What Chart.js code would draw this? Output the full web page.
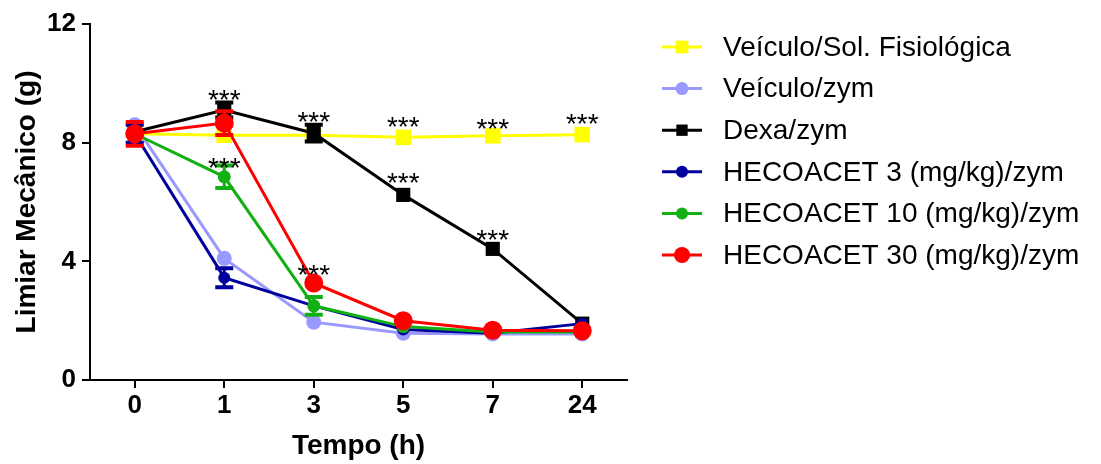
<!DOCTYPE html>
<html>
<head>
<meta charset="utf-8">
<script src="https://cdn.jsdelivr.net/npm/chart.js@4.4.0/dist/chart.umd.min.js"></script>
<style>
  html, body { margin: 0; padding: 0; background: #fff; }
  #wrap { width: 1101px; height: 464px; }
</style>
</head>
<body>
<div id="wrap"><canvas id="chart"></canvas></div>
<script>
// Data
const timeLabels = ['0', '1', '3', '5', '7', '24'];
const yTicks = [0, 4, 8, 12];

const seriesNames = [
    'Veículo/Sol. Fisiológica',
    'Veículo/zym',
    'Dexa/zym',
    'HECOACET 3 (mg/kg)/zym',
    'HECOACET 10 (mg/kg)/zym',
    'HECOACET 30 (mg/kg)/zym'
];

const salineMean = [8.3, 8.25, 8.25, 8.18, 8.23, 8.27];
const salineErr = [0.2, 0.25, 0.1, 0.1, 0.1, 0.1];

const vehicleMean = [8.6, 4.1, 1.95, 1.58, 1.55, 1.55];
const vehicleErr = [0.1, 0.15, 0.1, 0.1, 0.08, 0.08];

const dexaMean = [8.37, 9.1, 8.32, 6.24, 4.42, 1.9];
const dexaErr = [0.2, 0.25, 0.28, 0.1, 0.1, 0.1];

const heco3Mean = [8.3, 3.45, 2.5, 1.7, 1.58, 1.9];
const heco3Err = [0.3, 0.32, 0.12, 0.1, 0.08, 0.1];

const heco10Mean = [8.3, 6.85, 2.5, 1.8, 1.62, 1.62];
const heco10Err = [0.2, 0.38, 0.3, 0.1, 0.08, 0.08];

const heco30Mean = [8.3, 8.66, 3.27, 2.0, 1.68, 1.66];
const heco30Err = [0.4, 0.4, 0.12, 0.1, 0.08, 0.08];

// significance marks (category, value at the centre of the "***")
const starX = ['1', '1', '3', '3', '5', '5', '7', '7', '24'];
const starY = [9.67, 7.4, 8.93, 3.77, 8.76, 6.9, 8.7, 4.95, 8.87];

const colors = ['#FFFF00', '#9999FF', '#000000', '#00009C', '#12B012', '#FF0000'];

function makeSet(i, data, err, style, radius, order) {
    return {
        label: seriesNames[i],
        data: data,
        errors: err,
        borderColor: colors[i],
        backgroundColor: colors[i],
        borderWidth: 3,
        pointStyle: style,
        pointRadius: radius,
        pointHoverRadius: radius,
        pointBorderWidth: 0,
        tension: 0,
        order: order
    };
}

// error bars drawn just before each dataset, so the markers sit on top;
// bars shorter than the symbol are hidden, like in the original plot
const errorBars = {
    id: 'errorBars',
    beforeDatasetDraw(chart, args) {
        const ds = chart.data.datasets[args.index];
        if (!ds.errors) return;
        const ctx = chart.ctx;
        const y = chart.scales.y;
        const half = ds.pointStyle === 'rect' ? ds.pointRadius * Math.SQRT1_2 : ds.pointRadius;
        ctx.save();
        ctx.strokeStyle = ds.borderColor;
        args.meta.data.forEach((pt, i) => {
            const e = ds.errors[i];
            const top = y.getPixelForValue(ds.data[i] + e);
            const bot = y.getPixelForValue(ds.data[i] - e);
            if ((bot - top) / 2 <= half) return;
            ctx.lineWidth = 3;
            ctx.beginPath();
            ctx.moveTo(pt.x, top);
            ctx.lineTo(pt.x, bot);
            ctx.stroke();
            ctx.lineWidth = 4;
            ctx.beginPath();
            ctx.moveTo(pt.x - 9, top);
            ctx.lineTo(pt.x + 9, top);
            ctx.moveTo(pt.x - 9, bot);
            ctx.lineTo(pt.x + 9, bot);
            ctx.stroke();
        });
        ctx.restore();
    }
};

const stars = {
    id: 'stars',
    afterDatasetsDraw(chart) {
        const ctx = chart.ctx;
        const fs = 28;
        ctx.save();
        ctx.fillStyle = '#000';
        ctx.font = fs + 'px Arial, "Liberation Sans"';
        ctx.textAlign = 'center';
        ctx.textBaseline = 'alphabetic';
        starX.forEach((lab, i) => {
            const px = chart.scales.x.getPixelForValue(timeLabels.indexOf(lab));
            const py = chart.scales.y.getPixelForValue(starY[i]);
            ctx.fillText('***', px, py + fs * 0.58);
        });
        ctx.restore();
    }
};

const sideLegend = {
    id: 'sideLegend',
    afterDraw(chart) {
        const ctx = chart.ctx;
        const legendSizes = [9, 6.5, 8, 6, 6, 8];
        ctx.save();
        seriesNames.forEach((name, i) => {
            const ds = chart.data.datasets.find(d => d.label === name);
            const rowY = 47 + i * 41.6;
            ctx.strokeStyle = colors[i];
            ctx.fillStyle = colors[i];
            ctx.lineWidth = 3;
            ctx.beginPath();
            ctx.moveTo(662, rowY);
            ctx.lineTo(702, rowY);
            ctx.stroke();
            Chart.helpers.drawPoint(ctx, { pointStyle: ds.pointStyle, rotation: 0, radius: legendSizes[i], borderWidth: 0 }, 682, rowY);
            ctx.fillStyle = '#000';
            ctx.font = '28px Arial, "Liberation Sans"';
            ctx.textAlign = 'left';
            ctx.textBaseline = 'middle';
            ctx.fillText(name, 723, rowY + 1);
        });
        ctx.restore();
    }
};

new Chart(document.getElementById('chart'), {
    type: 'line',
    data: {
        labels: timeLabels,
        datasets: [
            makeSet(0, salineMean, salineErr, 'rect', 11, 5),
            makeSet(1, vehicleMean, vehicleErr, 'circle', 7.5, 4),
            makeSet(2, dexaMean, dexaErr, 'rect', 10, 3),
            makeSet(3, heco3Mean, heco3Err, 'circle', 6, 2),
            makeSet(4, heco10Mean, heco10Err, 'circle', 6.5, 1),
            makeSet(5, heco30Mean, heco30Err, 'circle', 9.5, 0)
        ]
    },
    options: {
        responsive: true,
        maintainAspectRatio: false,
        animation: false,
        layout: { padding: { left: 0, top: 24, right: 474, bottom: 0 } },
        plugins: {
            legend: { display: false },
            tooltip: { enabled: false }
        },
        scales: {
            x: {
                type: 'category',
                offset: true,
                grid: { display: true, offset: false, drawOnChartArea: false, drawTicks: true, tickLength: 8, color: '#000', lineWidth: 2 },
                border: { display: true, color: '#000', width: 2 },
                ticks: { color: '#000', padding: 2, font: { family: 'Arial', size: 26, weight: 'bold' } },
                title: {
                    display: true,
                    text: 'Tempo (h)',
                    color: '#000',
                    font: { family: 'Arial', size: 28, weight: 'bold' },
                    padding: { top: 0, bottom: 1 }
                },
                afterFit(s) { s.height = 84; }
            },
            y: {
                min: 0,
                max: 12,
                afterBuildTicks(s) { s.ticks = yTicks.map(v => ({ value: v })); },
                grid: { display: true, drawOnChartArea: false, drawTicks: true, tickLength: 8, color: '#000', lineWidth: 2 },
                border: { display: true, color: '#000', width: 2 },
                ticks: { color: '#000', padding: 6, font: { family: 'Arial', size: 26, weight: 'bold' } },
                title: {
                    display: true,
                    text: 'Limiar Mecânico (g)',
                    color: '#000',
                    font: { family: 'Arial', size: 28, weight: 'bold' },
                    padding: { top: 10, bottom: 0 }
                },
                afterFit(s) { s.width = 90; }
            }
        }
    },
    plugins: [errorBars, stars, sideLegend]
});
</script>
</body>
</html>
